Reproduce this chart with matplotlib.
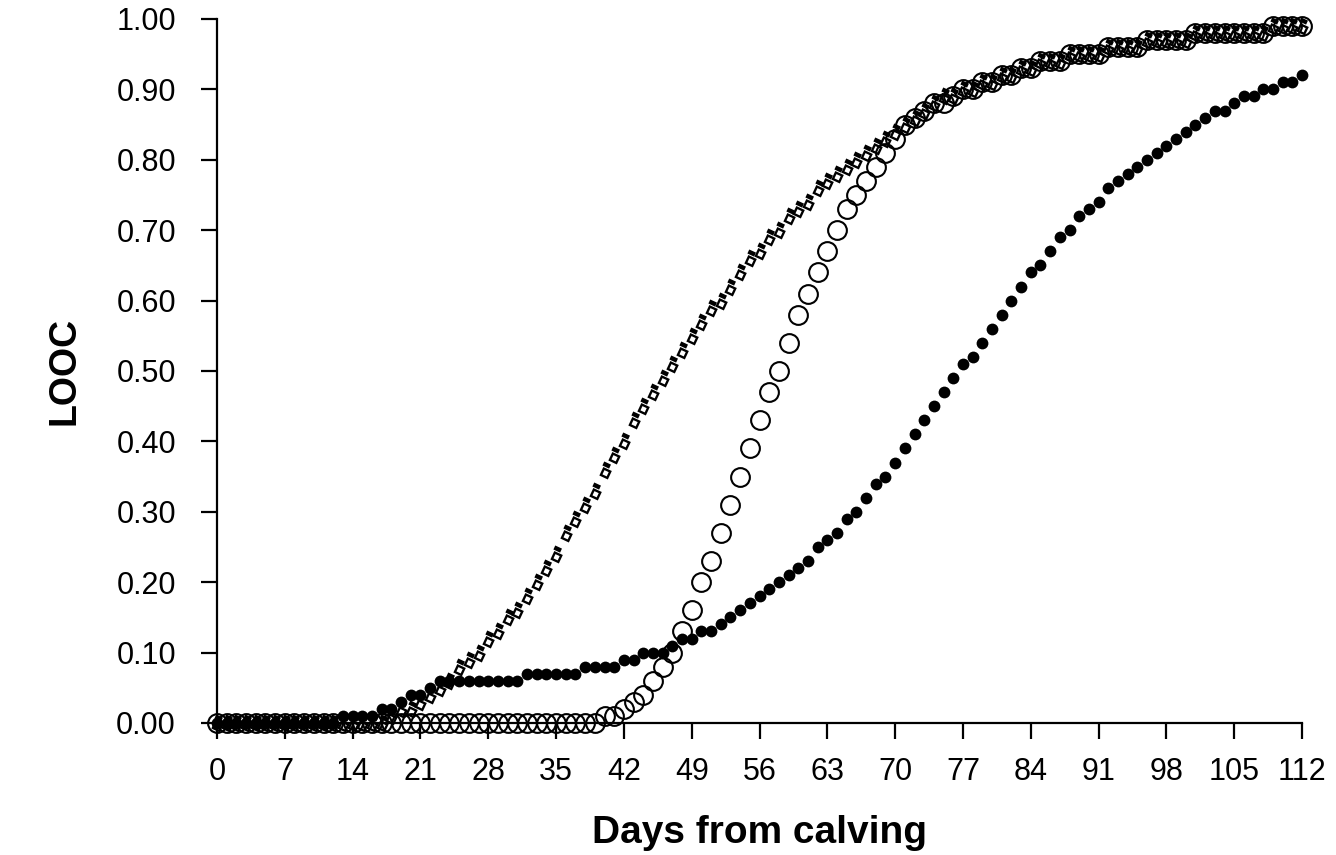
import numpy as np
import matplotlib
matplotlib.use("Agg")
import matplotlib.pyplot as plt
from matplotlib.path import Path
from matplotlib.markers import MarkerStyle
from matplotlib.transforms import Affine2D


# days from calving, one observation per day
days = list(range(0, 113))

# LOOC, open circles (one row per week)
looc_open = [
    0.00, 0.00, 0.00, 0.00, 0.00, 0.00, 0.00,
    0.00, 0.00, 0.00, 0.00, 0.00, 0.00, 0.00,
    0.00, 0.00, 0.00, 0.00, 0.00, 0.00, 0.00,
    0.00, 0.00, 0.00, 0.00, 0.00, 0.00, 0.00,
    0.00, 0.00, 0.00, 0.00, 0.00, 0.00, 0.00,
    0.00, 0.00, 0.00, 0.00, 0.00, 0.01, 0.01,
    0.02, 0.03, 0.04, 0.06, 0.08, 0.10, 0.13,
    0.16, 0.20, 0.23, 0.27, 0.31, 0.35, 0.39,
    0.43, 0.47, 0.50, 0.54, 0.58, 0.61, 0.64,
    0.67, 0.70, 0.73, 0.75, 0.77, 0.79, 0.81,
    0.83, 0.85, 0.86, 0.87, 0.88, 0.88, 0.89,
    0.90, 0.90, 0.91, 0.91, 0.92, 0.92, 0.93,
    0.93, 0.94, 0.94, 0.94, 0.95, 0.95, 0.95,
    0.95, 0.96, 0.96, 0.96, 0.96, 0.97, 0.97,
    0.97, 0.97, 0.97, 0.98, 0.98, 0.98, 0.98,
    0.98, 0.98, 0.98, 0.98, 0.99, 0.99, 0.99,
    0.99,
]

# LOOC, filled circles
looc_filled = [
    0.00, 0.00, 0.00, 0.00, 0.00, 0.00, 0.00,
    0.00, 0.00, 0.00, 0.00, 0.00, 0.00, 0.01,
    0.01, 0.01, 0.01, 0.02, 0.02, 0.03, 0.04,
    0.04, 0.05, 0.06, 0.06, 0.06, 0.06, 0.06,
    0.06, 0.06, 0.06, 0.06, 0.07, 0.07, 0.07,
    0.07, 0.07, 0.07, 0.08, 0.08, 0.08, 0.08,
    0.09, 0.09, 0.10, 0.10, 0.10, 0.11, 0.12,
    0.12, 0.13, 0.13, 0.14, 0.15, 0.16, 0.17,
    0.18, 0.19, 0.20, 0.21, 0.22, 0.23, 0.25,
    0.26, 0.27, 0.29, 0.30, 0.32, 0.34, 0.35,
    0.37, 0.39, 0.41, 0.43, 0.45, 0.47, 0.49,
    0.51, 0.52, 0.54, 0.56, 0.58, 0.60, 0.62,
    0.64, 0.65, 0.67, 0.69, 0.70, 0.72, 0.73,
    0.74, 0.76, 0.77, 0.78, 0.79, 0.80, 0.81,
    0.82, 0.83, 0.84, 0.85, 0.86, 0.87, 0.87,
    0.88, 0.89, 0.89, 0.90, 0.90, 0.91, 0.91,
    0.92,
]

# LOOC, square markers
looc_square = [
    0.00, 0.00, 0.00, 0.00, 0.00, 0.00, 0.00,
    0.00, 0.00, 0.00, 0.00, 0.00, 0.00, 0.00,
    0.00, 0.00, 0.00, 0.00, 0.01, 0.02, 0.02,
    0.03, 0.04, 0.05, 0.06, 0.08, 0.09, 0.10,
    0.12, 0.13, 0.15, 0.16, 0.18, 0.20, 0.22,
    0.24, 0.27, 0.29, 0.31, 0.33, 0.36, 0.38,
    0.40, 0.43, 0.45, 0.47, 0.49, 0.51, 0.53,
    0.55, 0.57, 0.59, 0.60, 0.62, 0.64, 0.66,
    0.67, 0.69, 0.70, 0.72, 0.73, 0.74, 0.76,
    0.77, 0.78, 0.79, 0.80, 0.81, 0.82, 0.83,
    0.84, 0.85, 0.86, 0.87, 0.88, 0.89, 0.89,
    0.90, 0.90, 0.91, 0.91, 0.92, 0.92, 0.93,
    0.93, 0.94, 0.94, 0.94, 0.95, 0.95, 0.95,
    0.95, 0.96, 0.96, 0.96, 0.96, 0.97, 0.97,
    0.97, 0.97, 0.97, 0.98, 0.98, 0.98, 0.98,
    0.98, 0.98, 0.98, 0.98, 0.99, 0.99, 0.99,
    0.99,
]

x_ticks = list(range(0, 113, 7))
y_ticks = [0.0, 0.1, 0.2, 0.3, 0.4, 0.5, 0.6, 0.7, 0.8, 0.9, 1.0]

FONT = ["Liberation Sans", "DejaVu Sans"]


def box(x0, y0, x1, y1, clockwise=False):
    pts = [(x0, y0), (x1, y0), (x1, y1), (x0, y1)]
    if clockwise:
        pts = pts[::-1]
    return pts + [pts[0]]


def square_pair_marker():
    """
    Open square with a small solid bar above-left of it,
    built as one compound path (inner box reversed -> hole).
    """
    cx, cy = 1.0, -2.0
    outer, inner = 3.8, 1.9
    parts = [
        box(cx - outer, cy - outer, cx + outer, cy + outer),
        box(cx - inner, cy - inner, cx + inner, cy + inner, clockwise=True),
        box(-4.0, 2.6, 2.0, 6.2),
    ]
    verts, codes = [], []
    for p in parts:
        verts += p
        codes += [Path.MOVETO, Path.LINETO, Path.LINETO, Path.LINETO, Path.CLOSEPOLY]
    path = Path(np.array(verts), codes)
    path = path.transformed(Affine2D().rotate_deg(-25))
    return MarkerStyle(path)


def main():
    fig = plt.figure(figsize=(13.36, 8.55), dpi=100)
    ax = fig.add_axes([0.1624, 0.1544, 0.9746 - 0.1624, 0.9778 - 0.1544])

    ax.plot(days, looc_filled, linestyle="none", marker="o", markersize=8.5,
            markerfacecolor="black", markeredgecolor="black", markeredgewidth=0,
            clip_on=False, zorder=3)
    ax.plot(days, looc_square, linestyle="none", marker=square_pair_marker(),
            markersize=13, markerfacecolor="black", markeredgewidth=0,
            clip_on=False, zorder=4)
    ax.plot(days, looc_open, linestyle="none", marker="o", markersize=13.5,
            markerfacecolor="none", markeredgecolor="black", markeredgewidth=1.5,
            clip_on=False, zorder=5)

    ax.set_xlim(0, 112)
    ax.set_ylim(0, 1.0)
    ax.set_xticks(x_ticks)
    ax.set_xticklabels([str(t) for t in x_ticks])
    ax.set_yticks(y_ticks)
    ax.set_yticklabels([f"{t:.2f}" for t in y_ticks])

    for side in ["top", "right"]:
        ax.spines[side].set_visible(False)
    for side in ["left", "bottom"]:
        ax.spines[side].set_linewidth(1.6)

    ax.tick_params(axis="both", direction="out", length=11.5, width=1.6)
    ax.tick_params(axis="y", pad=18)
    ax.tick_params(axis="x", pad=13)
    for lbl in ax.get_xticklabels() + ax.get_yticklabels():
        lbl.set_fontfamily(FONT)
        lbl.set_fontsize(22)

    ax.set_xlabel("Days from calving", fontsize=28, fontweight="bold",
                  family=FONT, labelpad=20)
    ax.set_ylabel("LOOC", fontsize=27, fontweight="bold", family=FONT,
                  labelpad=24)

    fig.savefig("out.png", dpi=100)


if __name__ == "__main__":
    main()
